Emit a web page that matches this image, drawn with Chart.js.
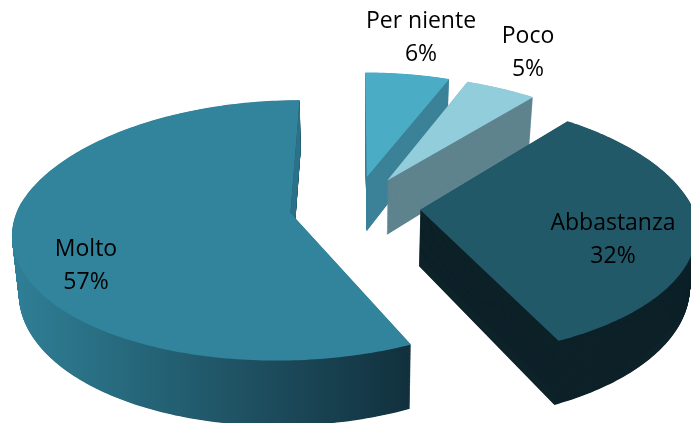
<!DOCTYPE html>
<html>
<head>
<meta charset="utf-8">
<title>Grafico a torta</title>
<script src="https://cdn.jsdelivr.net/npm/chart.js@4"></script>
<style>
    html, body { margin: 0; padding: 0; background: #ffffff; }
    canvas { display: block; }
</style>
</head>
<body>
<canvas id="chart1" width="691" height="423"></canvas>
<script>
const categories = ['Per niente', 'Poco', 'Abbastanza', 'Molto'];
const percentages = [6, 5, 32, 57];

const topColors = ['#4bacc6', '#92cddc', '#215968', '#31849b'];
const wallColors = ['#3b8298', '#5f848e', '#0e2229', null];

// Pie shape on the page, the library only knows a flat circle
const pieWidth = 272;
const pieHeight = 126;
const pieDepth = 56;
const perspective = 0.135;
const farNarrowing = 0.165;
const lean = -0.012;
const bottomShrink = 0.02;

// Middle of each two line label
const labelSpots = [[421, 37], [528, 52], [613, 239], [86, 265]];

function slicePoints(arc) {
    const R = arc.outerRadius;
    const shift = (arc.options.offset / 4) / R;
    const mid = (arc.startAngle + arc.endAngle) / 2;
    const ox = Math.cos(mid) * shift;
    const oy = Math.sin(mid) * shift;

    function project(u, v) {
        const w = 1 - perspective * v;
        const wx = v < 0 ? 1 - farNarrowing * v : w;
        const skew = v > 0 ? lean * v : 0;
        return { x: arc.x + pieWidth * (u + skew) / wx, y: arc.y + pieHeight * v / w, w: w };
    }

    const pts = [project(ox, oy)];
    const steps = Math.ceil((arc.endAngle - arc.startAngle) * 60);
    for (let i = 0; i <= steps; i++) {
        const a = arc.startAngle + (arc.endAngle - arc.startAngle) * i / steps;
        pts.push(project(ox + Math.cos(a), oy + Math.sin(a)));
    }
    pts.forEach(function(p) { p.cx = arc.x; });
    return pts;
}

// Where a point of the top face lands after going down by drop
function lowered(p, drop) {
    const k = 1 - bottomShrink * drop / pieDepth;
    return { x: p.cx + (p.x - p.cx) * k, y: p.y + drop / p.w };
}

function fillSlice(ctx, pts, drop, style) {
    ctx.beginPath();
    pts.forEach(function(p) {
        const q = lowered(p, drop);
        ctx.lineTo(q.x, q.y);
    });
    ctx.closePath();
    ctx.fillStyle = style;
    ctx.fill();
}

const pie3d = {
    id: 'pie3d',
    beforeDatasetsDraw(chart) {
        const ctx = chart.ctx;
        const arcs = chart.getDatasetMeta(0).data;

        // Back slices first, Abbastanza sits over the wall of Poco
        [0, 1, 3, 2].forEach(function(i) {
            const pts = slicePoints(arcs[i]);
            let wall = wallColors[i];
            if (!wall) {
                wall = ctx.createLinearGradient(18, 0, 406, 0);
                wall.addColorStop(0, '#2f7e95');
                wall.addColorStop(1, '#12313e');
            }
            for (let d = pieDepth; d > 0; d -= 0.5) {
                fillSlice(ctx, pts, d, wall);
            }
            // The cut face of Molto catches more light than its rim
            if (!wallColors[i]) {
                const a = pts[0];
                const b = pts[pts.length - 1];
                const la = lowered(a, pieDepth);
                const lb = lowered(b, pieDepth);
                ctx.beginPath();
                ctx.moveTo(a.x, a.y);
                ctx.lineTo(b.x, b.y);
                ctx.lineTo(lb.x, lb.y);
                ctx.lineTo(la.x, la.y);
                ctx.closePath();
                ctx.fillStyle = '#2a7189';
                ctx.fill();
            }
            fillSlice(ctx, pts, 0, arcs[i].options.backgroundColor);
        });
        return false;
    },
    afterDraw(chart) {
        const ctx = chart.ctx;
        ctx.fillStyle = '#000000';
        ctx.font = '23px "Open Sans"';
        ctx.textAlign = 'center';
        ctx.textBaseline = 'middle';
        categories.forEach(function(name, i) {
            ctx.fillText(name, labelSpots[i][0], labelSpots[i][1] - 16);
            ctx.fillText(percentages[i] + '%', labelSpots[i][0], labelSpots[i][1] + 17);
        });
    }
};

new Chart(document.getElementById('chart1').getContext('2d'), {
    type: 'pie',
    data: {
        labels: categories,
        datasets: [{
            data: percentages,
            backgroundColor: topColors,
            borderWidth: 0,
            offset: 134
        }]
    },
    options: {
        responsive: false,
        animation: false,
        layout: { padding: { left: 19, bottom: 11 } },
        plugins: {
            legend: { display: false },
            tooltip: { enabled: false }
        }
    },
    plugins: [pie3d]
});
</script>
</body>
</html>
